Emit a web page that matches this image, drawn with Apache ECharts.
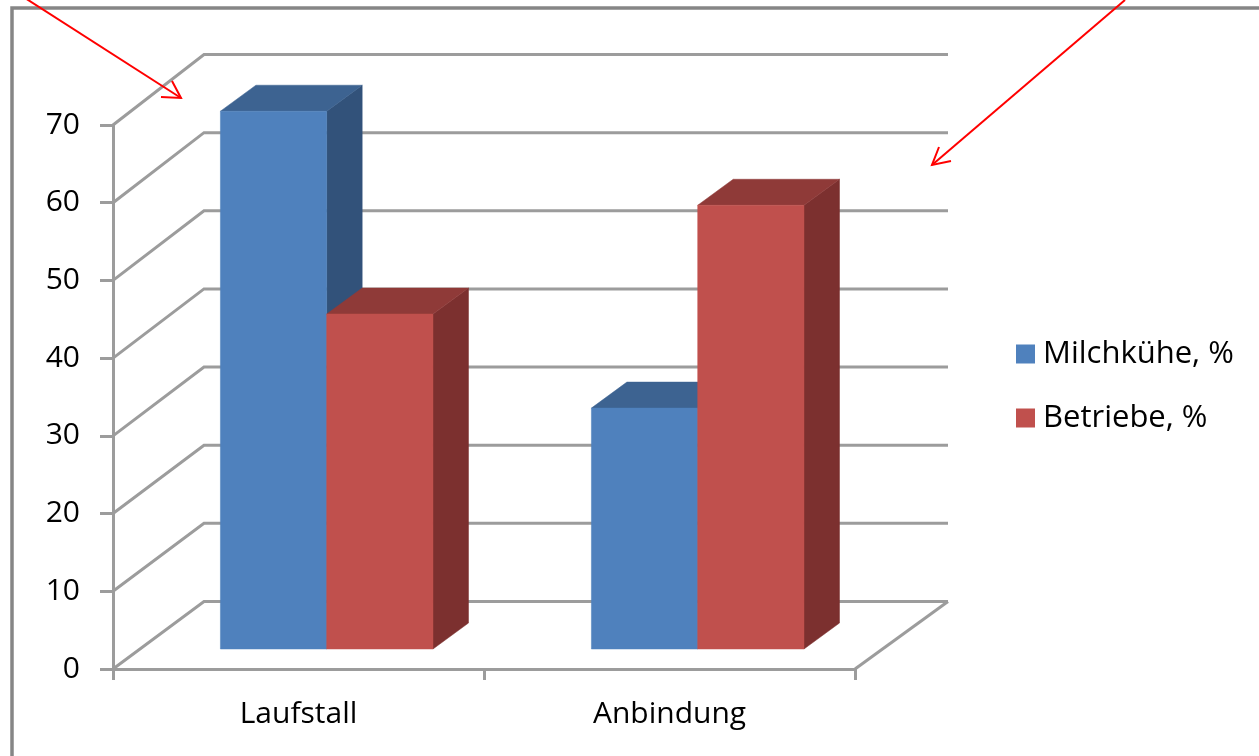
<!DOCTYPE html>
<html>
<head>
<meta charset="utf-8">
<style>html,body{margin:0;padding:0;background:#fff}#c{width:1259px;height:756px}</style>
<script src="https://cdn.jsdelivr.net/npm/echarts@6/dist/echarts.min.js"></script>
</head>
<body>
<div id="c"></div>
<script>
const categories = ['Laufstall', 'Anbindung'];
const milchkuehe = [69.2, 31];
const betriebe = [43.1, 57.1];
const yTicks = [0, 10, 20, 30, 40, 50, 60, 70];

const FONT = '"Open Sans", sans-serif';
const GRID_COLOR = '#9c9c9c';
const WALL_DX = 91, WALL_DX_RIGHT = 93, WALL_DY = -67.5, WALL_STRETCH = 547 / 544;
const FLOOR_DX = 28.2, FLOOR_DY = -20;
const BAR_DX = 35.5, BAR_DY = -26;
const BAR_SHARE = 0.2865;

const chart = echarts.init(document.getElementById('c'));

function wallItem(params, api) {
  const cs = params.coordSys;
  const y = api.coord([0, api.value(1)])[1];
  const y0 = api.coord([0, 0])[1];
  const yBack = y0 + WALL_DY + (y - y0) * WALL_STRETCH;
  const x0 = cs.x;
  const style = { stroke: GRID_COLOR, lineWidth: 3, fill: null };
  const children = [{
    type: 'polyline',
    shape: { points: [[x0, y], [x0 + WALL_DX, yBack], [x0 + cs.width + WALL_DX_RIGHT, yBack]] },
    style
  }];
  if (api.value(1) === 0) {
    children.push({
      type: 'line',
      shape: { x1: x0 + cs.width, y1: y, x2: x0 + cs.width + WALL_DX_RIGHT, y2: yBack },
      style
    });
  }
  return { type: 'group', children };
}

function barItem(slot, front, top, side) {
  return function (params, api) {
    const c = api.coord([api.value(0), api.value(1)]);
    const z = api.coord([api.value(0), 0]);
    const w = api.size([1, 0])[0] * BAR_SHARE;
    const x1 = c[0] + FLOOR_DX + (slot === 0 ? -w : 0);
    const x2 = x1 + w;
    const yT = c[1] + FLOOR_DY, yB = z[1] + FLOOR_DY;
    const poly = (points, fill) => ({
      type: 'polygon', shape: { points }, style: { fill, stroke: fill, lineWidth: 0.5 }
    });
    return {
      type: 'group',
      children: [
        poly([[x2, yT], [x2 + BAR_DX, yT + BAR_DY], [x2 + BAR_DX, yB + BAR_DY], [x2, yB]], side),
        poly([[x1, yT], [x1 + BAR_DX, yT + BAR_DY], [x2 + BAR_DX, yT + BAR_DY], [x2, yT]], top),
        poly([[x1, yT], [x2, yT], [x2, yB], [x1, yB]], front)
      ]
    };
  };
}

const redLine = { stroke: '#ff0000', lineWidth: 2, fill: null };

chart.setOption({
  animation: false,
  backgroundColor: '#ffffff',
  grid: { left: 113, right: 404, top: 125, bottom: 87, containLabel: false },
  legend: {
    orient: 'vertical',
    left: 1016,
    top: 336,
    padding: 0,
    itemWidth: 19,
    itemHeight: 19,
    itemGap: 28,
    icon: 'rect',
    data: ['Milchkühe, %', 'Betriebe, %'],
    textStyle: { fontFamily: FONT, fontSize: 31, lineHeight: 36, color: '#000', padding: [0, 0, 0, 3] }
  },
  xAxis: {
    type: 'category',
    data: categories,
    axisLine: { lineStyle: { color: GRID_COLOR, width: 3 } },
    axisTick: { show: true, length: 11, lineStyle: { color: GRID_COLOR, width: 3 } },
    axisLabel: { fontFamily: FONT, fontSize: 30, color: '#000', margin: 30 }
  },
  yAxis: {
    type: 'value',
    min: 0,
    max: 70,
    interval: 10,
    splitLine: { show: false },
    axisLine: { show: true, lineStyle: { color: GRID_COLOR, width: 3 } },
    axisTick: { show: true, length: 13, lineStyle: { color: GRID_COLOR, width: 3 } },
    axisLabel: { fontFamily: FONT, fontSize: 30, color: '#000', margin: 33, padding: [4, 0, 0, 0] }
  },
  series: [
    {
      type: 'custom', name: 'wall', silent: true, z: 1,
      data: yTicks.map(v => [0, v]),
      encode: { x: 0, y: 1 },
      renderItem: wallItem
    },
    {
      type: 'custom', name: 'Milchkühe, %', z: 3,
      itemStyle: { color: '#4f81bd' },
      data: milchkuehe.map((v, i) => [i, v]),
      encode: { x: 0, y: 1 },
      renderItem: barItem(0, '#4f81bd', '#3d6391', '#32527a')
    },
    {
      type: 'custom', name: 'Betriebe, %', z: 4,
      itemStyle: { color: '#c0504d' },
      data: betriebe.map((v, i) => [i, v]),
      encode: { x: 0, y: 1 },
      renderItem: barItem(1, '#c0504d', '#8f3a38', '#7c302f')
    }
  ],
  graphic: [
    { type: 'rect', z: 0, silent: true, shape: { x: 12, y: 8, width: 1300, height: 800 },
      style: { fill: null, stroke: '#868686', lineWidth: 3.5 } },
    { type: 'line', z: 20, silent: true, shape: { x1: 25, y1: -2, x2: 181, y2: 98 }, style: redLine },
    { type: 'polyline', z: 20, silent: true, shape: { points: [[172, 81], [181, 98], [161, 97]] }, style: redLine },
    { type: 'line', z: 20, silent: true, shape: { x1: 1125, y1: 0, x2: 932, y2: 165 }, style: redLine },
    { type: 'polyline', z: 20, silent: true, shape: { points: [[939, 147], [932, 165], [951, 161]] }, style: redLine }
  ]
});
</script>
</body>
</html>
